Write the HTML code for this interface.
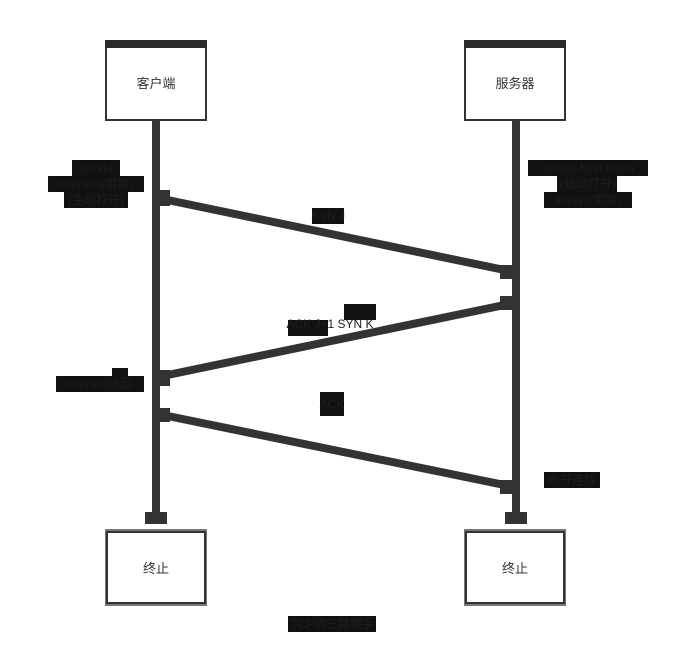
<!DOCTYPE html>
<html><head><meta charset="utf-8"><style>
body{margin:0;background:#fff;}
svg{display:block;font-family:"Liberation Sans","Noto Sans CJK SC",sans-serif;}
</style></head><body>
<svg width="674" height="669" viewBox="0 0 674 669">
<rect x="152" y="120" width="8" height="400" fill="#333"/>
<rect x="512" y="120" width="8" height="400" fill="#333"/>
<rect x="145" y="512" width="22" height="12" fill="#333"/>
<rect x="505" y="512" width="22" height="12" fill="#333"/>
<rect x="106" y="44" width="100" height="76" fill="#fff" stroke="#333" stroke-width="2"/>
<rect x="105" y="40" width="102" height="8" fill="#2a2a2a"/>
<text x="156" y="88" font-size="13" text-anchor="middle" fill="#333">客户端</text>
<rect x="465" y="44" width="100" height="76" fill="#fff" stroke="#333" stroke-width="2"/>
<rect x="464" y="40" width="102" height="8" fill="#2a2a2a"/>
<text x="515" y="88" font-size="13" text-anchor="middle" fill="#333">服务器</text>
<rect x="105" y="529" width="102" height="77" fill="#777"/>
<rect x="107" y="532" width="98" height="71" fill="#fff" stroke="#333" stroke-width="2"/>
<text x="156" y="573" font-size="13" text-anchor="middle" fill="#333">终止</text>
<rect x="464" y="529" width="102" height="77" fill="#777"/>
<rect x="466" y="532" width="98" height="71" fill="#fff" stroke="#333" stroke-width="2"/>
<text x="515" y="573" font-size="13" text-anchor="middle" fill="#333">终止</text>
<line x1="158" y1="198" x2="514" y2="272" stroke="#333" stroke-width="8"/>
<line x1="514" y1="303" x2="158" y2="377" stroke="#333" stroke-width="8"/>
<line x1="158" y1="414" x2="514" y2="487" stroke="#333" stroke-width="8"/>
<rect x="152" y="190" width="18" height="16" fill="#333"/>
<rect x="152" y="370" width="18" height="16" fill="#333"/>
<rect x="152" y="408" width="18" height="14" fill="#333"/>
<rect x="500" y="265" width="16" height="14" fill="#333"/>
<rect x="500" y="296" width="16" height="14" fill="#333"/>
<rect x="500" y="480" width="16" height="14" fill="#333"/>
<g fill="#111">
<rect x="72" y="160" width="48" height="16"/>
<rect x="48" y="176" width="96" height="16"/>
<rect x="64" y="192" width="64" height="16"/>
<rect x="312" y="208" width="32" height="16"/>
<rect x="288" y="320" width="40" height="16"/>
<rect x="344" y="304" width="32" height="16"/>
<rect x="56" y="376" width="88" height="16"/>
<rect x="112" y="368" width="16" height="8"/>
<rect x="320" y="392" width="24" height="24"/>
<rect x="528" y="160" width="120" height="16"/>
<rect x="557" y="176" width="60" height="16"/>
<rect x="544" y="192" width="88" height="16"/>
<rect x="544" y="472" width="56" height="16"/>
<rect x="288" y="616" width="88" height="16"/>
</g>
<g fill="#1e1e1e" font-size="12" text-anchor="middle">
<text x="96" y="172">socket</text>
<text x="96" y="188">connect(阻塞)</text>
<text x="96" y="204">(主动打开)</text>
<text x="328" y="220">SYN J</text>
<text x="330" y="328">ACK J+1 SYN K</text>
<text x="100" y="388">connect返回</text>
<text x="332" y="408">ACK</text>
<text x="588" y="172">socket.bind.listen</text>
<text x="588" y="188">(被动打开)</text>
<text x="588" y="204">accept(阻塞)</text>
<text x="572" y="484">断开连接</text>
<text x="332" y="628">TCP的三路握手</text>
</g>
</svg>
</body></html>
